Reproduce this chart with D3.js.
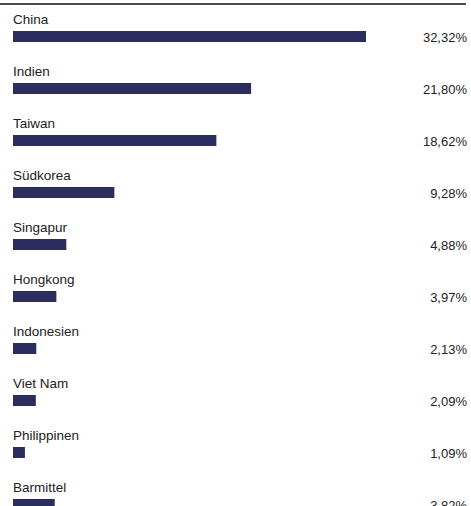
<!DOCTYPE html>
<html>
<head>
<meta charset="utf-8">
<script src="https://cdn.jsdelivr.net/npm/d3@7"></script>
<style>
  body { margin: 0; background: #fff; }
  text { font-family: "Liberation Sans", Arial, sans-serif; fill: #222; }
</style>
</head>
<body>
<div id="chart"></div>
<script>
// data
const countries = ["China", "Indien", "Taiwan", "Südkorea", "Singapur", "Hongkong", "Indonesien", "Viet Nam", "Philippinen", "Barmittel"];
const shares = [32.32, 21.80, 18.62, 9.28, 4.88, 3.97, 2.13, 2.09, 1.09, 3.82];

const width = 471, height = 506;

let svg = d3.select("#chart")
    .append("svg")
    .attr("width", width)
    .attr("height", height);

// top rule
svg.append("line")
    .attr("x1", 0).attr("x2", 466)
    .attr("y1", 4).attr("y2", 4)
    .attr("stroke", "#111")
    .attr("stroke-width", 1.6);

// x scale for bar length
var x = d3.scaleLinear()
    .domain([0, d3.max(shares)])
    .range([13, 366]);

// rows
var y = d3.scaleBand()
    .domain(countries)
    .range([19, 19 + countries.length * 52]);

var rows = svg.selectAll("g.row")
    .data(countries)
    .enter()
    .append("g")
    .attr("class", "row")
    .attr("transform", d => "translate(0," + y(d) + ")");

rows.append("text")
    .attr("x", 13)
    .attr("y", 4.5)
    .style("font-size", "13.5px")
    .text(d => d);

rows.append("rect")
    .attr("x", x(0))
    .attr("y", 12)
    .attr("height", 11)
    .attr("width", (d, i) => x(shares[i]) - x(0))
    .attr("fill", "#2b2d5f");

rows.append("text")
    .attr("x", 467)
    .attr("y", 22.5)
    .attr("text-anchor", "end")
    .style("font-size", "13px")
    .text((d, i) => shares[i].toFixed(2).replace(".", ",") + "%");
</script>
</body>
</html>
